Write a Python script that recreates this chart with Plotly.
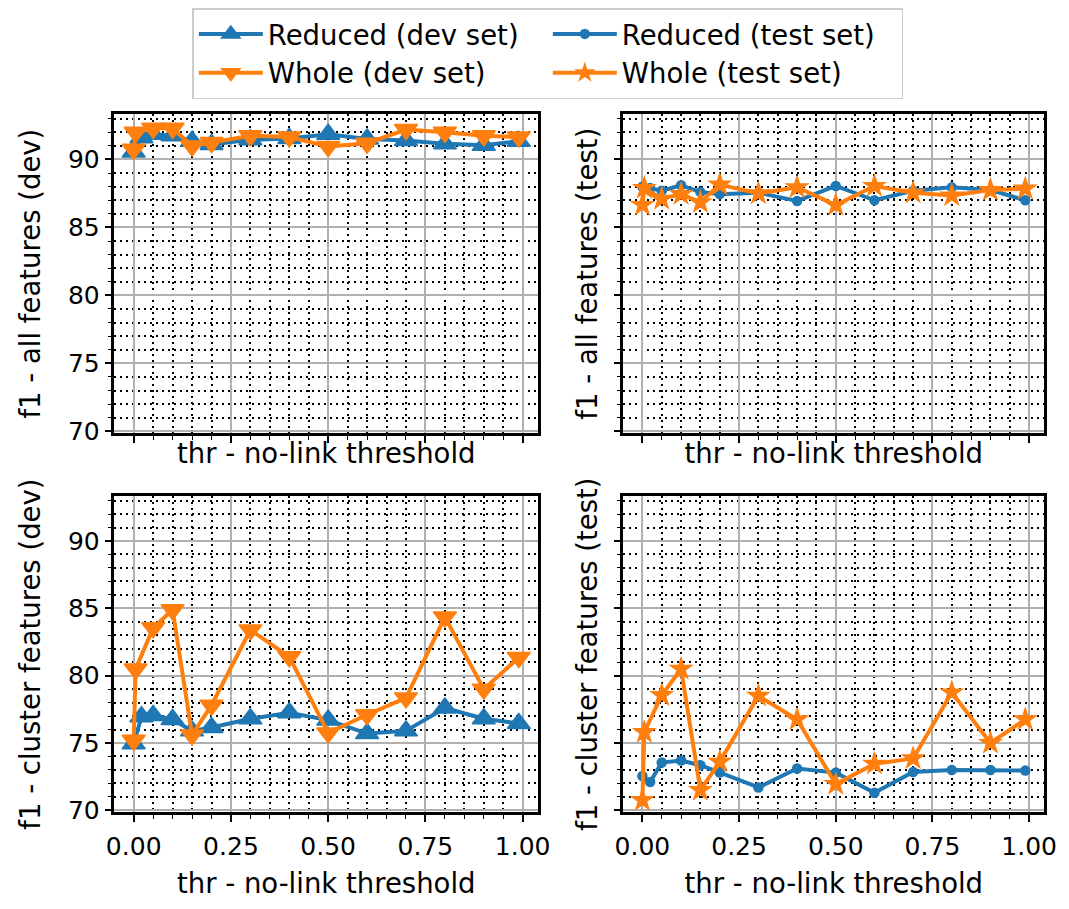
import plotly.graph_objects as go

# ---------------- data ----------------
thr_reduced = [0.0, 0.02, 0.05, 0.1, 0.15, 0.2, 0.3, 0.4, 0.5, 0.6, 0.7, 0.8, 0.9, 0.99]
thr_whole = [0.0, 0.005, 0.05, 0.1, 0.15, 0.2, 0.3, 0.4, 0.5, 0.6, 0.7, 0.8, 0.9, 0.99]

reduced_dev_all = [90.55, 91.6, 91.85, 91.75, 91.35, 91.1, 91.45, 91.55, 91.85, 91.5, 91.4, 91.15, 91.05, 91.35]
whole_dev_all = [90.75, 92.0, 92.3, 92.3, 91.0, 91.25, 91.75, 91.65, 90.95, 91.2, 92.2, 92.0, 91.75, 91.65]

reduced_test_all = [88.0, 87.9, 87.7, 88.1, 87.6, 87.45, 87.55, 86.95, 88.05, 87.0, 87.7, 87.95, 87.75, 87.0]
whole_test_all = [86.65, 87.9, 87.1, 87.45, 86.85, 88.15, 87.5, 87.95, 86.65, 88.05, 87.55, 87.35, 87.75, 87.85]

reduced_dev_cluster = [74.95, 76.95, 77.05, 76.75, 75.9, 76.15, 76.8, 77.25, 76.7, 75.7, 75.9, 77.6, 76.8, 76.45]
whole_dev_cluster = [75.2, 80.5, 83.55, 84.9, 75.6, 77.8, 83.4, 81.4, 75.75, 77.1, 78.35, 84.35, 79.0, 81.35]

reduced_test_cluster = [72.55, 72.1, 73.55, 73.7, 73.35, 72.8, 71.7, 73.1, 72.8, 71.3, 72.85, 73.0, 73.0, 72.95]
whole_test_cluster = [70.75, 75.8, 78.55, 80.5, 71.5, 73.6, 78.5, 76.75, 71.95, 73.45, 73.85, 78.75, 75.0, 76.75]

x_title = "thr - no-link threshold"
y_titles = ["f1 - all features (dev)", "f1 - all features (test)",
            "f1 - cluster features (dev)", "f1 - cluster features (test)"]
x_ticks = [0.0, 0.25, 0.5, 0.75, 1.0]
y_ticks = [70, 75, 80, 85, 90]

# ---------------- style ----------------
BLUE = "#1f77b4"
ORANGE = "#ff7f0e"
FONT = "DejaVu Sans"
LABEL_SIZE = 27.5
TICK_SIZE = 25
W, H = 1069, 909


def fx(px):
    return px / W


def fy(py):
    return 1 - py / H


fig = go.Figure()

panels = [
    ("x", "y", reduced_dev_all, whole_dev_all, "dev", True),
    ("x2", "y2", reduced_test_all, whole_test_all, "test", True),
    ("x3", "y3", reduced_dev_cluster, whole_dev_cluster, "dev", False),
    ("x4", "y4", reduced_test_cluster, whole_test_cluster, "test", False),
]

for xa, ya, red, whole, kind, showleg in panels:
    if kind == "dev":
        red_marker = dict(symbol="triangle-up", size=20, color=BLUE,
                          line=dict(color=BLUE, width=1.5))
        whole_marker = dict(symbol="triangle-down", size=20, color=ORANGE,
                            line=dict(color=ORANGE, width=1.5))
        red_name, whole_name = "Reduced (dev set)", "Whole (dev set)"
        ranks = (1, 3)
    else:
        red_marker = dict(symbol="circle", size=10.5, color=BLUE)
        whole_marker = dict(symbol="star", size=19, color=ORANGE)
        red_name, whole_name = "Reduced (test set)", "Whole (test set)"
        ranks = (2, 4)
    fig.add_trace(go.Scatter(
        x=thr_reduced, y=red, mode="lines+markers", name=red_name,
        line=dict(color=BLUE, width=4), marker=red_marker,
        xaxis=xa, yaxis=ya, showlegend=showleg, legendrank=ranks[0]))
    fig.add_trace(go.Scatter(
        x=thr_whole, y=whole, mode="lines+markers", name=whole_name,
        line=dict(color=ORANGE, width=4), marker=whole_marker,
        xaxis=xa, yaxis=ya, showlegend=showleg, legendrank=ranks[1]))

# plot-area boxes in pixels: (left, right, top, bottom)
boxes = {
    1: (99.5, 532, 107.5, 431.5),
    2: (619, 1049, 107.5, 431.5),
    3: (99.5, 532, 495, 816),
    4: (619, 1049, 495, 816),
}

common_axis = dict(
    showline=True, linecolor="black", linewidth=2.5, mirror=True,
    ticks="outside", ticklen=7, tickwidth=1.5, tickcolor="black",
    showgrid=True, gridcolor="#b0b0b0", gridwidth=2, zeroline=False,
    tickfont=dict(family=FONT, size=TICK_SIZE, color="black"),
)

layout = {}
for i in range(1, 5):
    l, r, t, b = boxes[i]
    xs = "xaxis" if i == 1 else f"xaxis{i}"
    ys = "yaxis" if i == 1 else f"yaxis{i}"
    xid = "x" if i == 1 else f"x{i}"
    yid = "y" if i == 1 else f"y{i}"
    bottom_row = i in (3, 4)
    left_col = i in (1, 3)
    layout[xs] = dict(
        common_axis,
        domain=[fx(l), fx(r)], anchor=yid,
        range=[-0.0495, 1.0395], tickmode="array", tickvals=x_ticks,
        ticktext=[f"{v:.2f}" for v in x_ticks],
        showticklabels=bottom_row, ticklabelstandoff=3,
        minor=dict(dtick=0.05, tick0=0, ticks="outside", ticklen=4, tickwidth=1.2,
                   tickcolor="black", showgrid=True, gridcolor="black",
                   gridwidth=1.7, griddash="2px,4px"),
        title=dict(text=x_title, font=dict(family=FONT, size=LABEL_SIZE, color="black"),
                   standoff=14 if bottom_row else 2),
    )
    layout[ys] = dict(
        common_axis,
        domain=[fy(b), fy(t)], anchor=xid,
        range=[69.85, 93.35], tickmode="array", tickvals=y_ticks,
        showticklabels=left_col,
        minor=dict(dtick=1, tick0=70, ticks="outside", ticklen=4, tickwidth=1.2,
                   tickcolor="black", showgrid=True, gridcolor="black",
                   gridwidth=1.7, griddash="2px,4px"),
        title=dict(text=y_titles[i - 1], font=dict(family=FONT, size=LABEL_SIZE, color="black"),
                   standoff=20 if left_col else 8),
    )

fig.update_layout(
    **layout,
    width=W, height=H,
    margin=dict(l=0, r=0, t=0, b=0),
    paper_bgcolor="white", plot_bgcolor="white",
    font=dict(family=FONT, size=LABEL_SIZE, color="black"),
    legend=dict(
        orientation="h", x=0.507, xanchor="center", y=1.0, yanchor="top",
        bgcolor="white", bordercolor="#cccccc", borderwidth=1.5,
        entrywidth=275, itemwidth=64,
        font=dict(family=FONT, size=LABEL_SIZE, color="black"),
        traceorder="normal",
    ),
)

fig.write_html("out.html")
